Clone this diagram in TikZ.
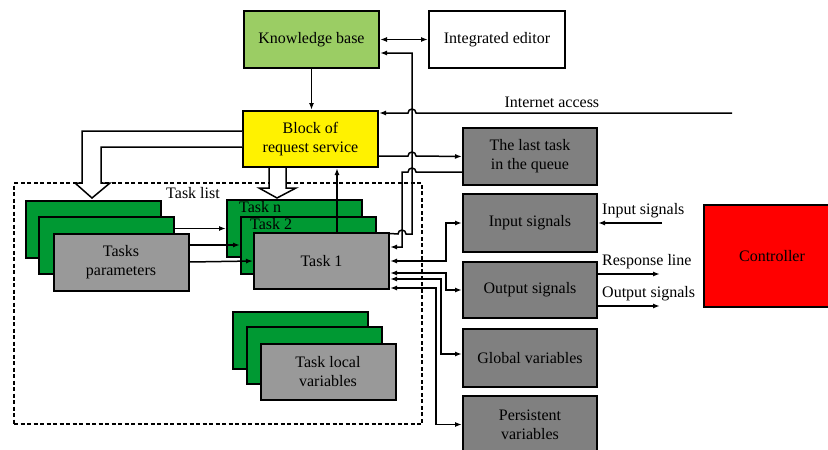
\documentclass[tikz,border=0pt]{standalone}
\usepackage{fontspec}
\setmainfont{Liberation Serif}
\usetikzlibrary{arrows.meta}
\usetikzlibrary{positioning}

\definecolor{kbgreen}{RGB}{155,205,100}
\definecolor{taskgreen}{RGB}{0,153,51}
\definecolor{taskgray}{RGB}{153,153,153}
\definecolor{boxgray}{RGB}{128,128,128}

\begin{document}
\begin{tikzpicture}[x=1pt,y=-1pt,
    >={Latex[length=7pt,width=5pt]},
    font=\fontsize{16}{19}\selectfont,
    box/.style={draw, line width=2pt, minimum width=135pt, minimum height=57pt,
      align=center, inner sep=2pt},
    link/.style={line width=1.5pt},
    hollow/.style={line width=1.5pt, fill=white, line join=miter},
    listframe/.style={draw, dashed, line width=1.6pt, dash pattern=on 4pt off 2.5pt}]
    \clip (0,0) rectangle (828,450);

    % upper blocks
    \node[box, fill=kbgreen] (kb) at (311.5,39.5) {Knowledge base};
    \node[box, fill=white, minimum width=136pt] (ie) at (497,39.5) {Integrated editor};
    \node[box, fill=yellow, minimum height=56pt] (req) at (310.5,139) {Block of\\request service};

    % right column
    \node[box, fill=boxgray, minimum width=134pt] (last) at (530,156.5) {The last task\\in the queue};
    \node[box, fill=boxgray, minimum width=134pt, minimum height=58pt] (insig) at (530,223) {Input signals};
    \node[box, fill=boxgray, minimum width=134pt, minimum height=56pt] (outsig) at (530,290) {Output signals};
    \node[box, fill=boxgray, minimum width=134pt, minimum height=58pt] (glob) at (530,358) {Global variables};
    \node[box, fill=boxgray, minimum width=134pt] (pers) at (530,424.5) {Persistent\\variables};
    \node[box, fill=red, minimum width=136pt, minimum height=102pt] (ctrl) at (772,256) {Controller};

    % task list
    \node[listframe, minimum width=408pt, minimum height=241pt] (list) at (218,303.5) {};
    \node (listlbl) at (193,193) {Task list};

    \node[box, fill=taskgreen] (tpc) at (93,229.5) {};
    \node[box, fill=taskgreen, xshift=13.5pt, yshift=-16pt] (tpb) at (tpc) {};
    \node[box, fill=taskgray, xshift=14.5pt, yshift=-16.5pt] (tpa) at (tpb) {Tasks\\parameters};

    \node[box, fill=taskgreen] (tn) at (294.5,228.5) {};
    \node[anchor=base west, inner sep=0pt] (tnlbl) at ([xshift=13pt,yshift=-13pt]tn.north west) {Task n};
    \node[box, fill=taskgreen, xshift=14pt, yshift=-16.5pt] (t2) at (tn) {};
    \node[anchor=base west, inner sep=0pt] (t2lbl) at ([xshift=10pt,yshift=-14pt]t2.north west) {Task 2};
    \node[box, fill=taskgray, minimum height=56pt, xshift=13pt, yshift=-16pt] (t1) at (t2) {Task 1};

    \node[box, fill=taskgreen] (lvc) at (300.5,340.5) {};
    \node[box, fill=taskgreen, xshift=13.5pt, yshift=-15pt] (lvb) at (lvc) {};
    \node[box, fill=taskgray, minimum height=56pt, xshift=14pt, yshift=-16.5pt] (lva) at (lvb) {Task local\\variables};

    % hollow arrows from the request block
    \draw[hollow] ([yshift=8pt]req.west) -- (82,131) -- (82,183) -- (75,183) -- (92,198)
      -- (110,183) -- (101,183) -- (101,147) -- ([yshift=-8pt]req.west);
    \draw[hollow] ([xshift=-41.5pt]req.south) -- (269,188) -- (259,188) -- (277,198)
      -- (296,188) -- (286,188) -- ([xshift=-24.5pt]req.south);

    % knowledge base links
    \draw[link,->] (kb.south) -- (kb.south |- req.north);
    \draw[link,<->] (kb.east) -- (ie.west);

    % internet access
    \coordinate (net) at (732,113);
    \draw[link,->] (net) -- node[pos=0.57, above=1pt] (netlbl) {Internet access} (416,113)
      arc[start angle=0,end angle=-180,radius=4] -- ([yshift=26pt]req.east);

    % request block, last task and task 1
    \draw[link,->] ([yshift=-17pt]req.east) -- (408,156)
      arc[start angle=180,end angle=360,radius=4] -- (last.west);
    \draw[link,->] ([yshift=-15.5pt]last.west) -- (416,172)
      arc[start angle=0,end angle=-180,radius=4] -- (402,172) -- (402,247) -- ([yshift=14pt]t1.east);
    \draw[link,->] ([yshift=-1.5pt]t1.north east) -- (398,234)
      arc[start angle=180,end angle=360,radius=4] -- (412,234) -- (412,53) -- ([yshift=-13.5pt]kb.east);
    \coordinate (up) at ([xshift=15.5pt]t1.north);
    \draw[link,->] (up) -- (up |- req.south);

    % tasks parameters into the tasks
    \draw[link,->] (tpb.east |- tn.west) -- (tn.west);
    \draw[link,->] (tpa.east |- t2.west) -- (t2.west);
    \draw[link,->] (tpa.east) -- (t1.west);

    % task 1 and the right column
    \draw[link,<->] (t1.east) -- (446,261) |- (insig.west);
    \draw[link,<->] ([yshift=-12pt]t1.east) -- (446,273) |- (outsig.west);
    \draw[link,<->] ([yshift=-18pt]t1.east) -- (441,279) |- ([yshift=4pt]glob.west);
    \draw[link,<->] ([yshift=-27pt]t1.east) -- (436,288) |- (pers.west);

    % signals
    \coordinate (insrc) at (662,223);
    \draw[link,->] (insrc) -- (insig.east);
    \node[anchor=base west, inner sep=0pt] (inlbl) at (602,214) {Input signals};
    \coordinate (resp) at (660,274);
    \draw[link,->] ([yshift=16pt]outsig.east) -- (resp);
    \node[anchor=base west, inner sep=0pt] (resplbl) at (602,265) {Response line};
    \coordinate (outdst) at (660,306);
    \draw[link,->] ([yshift=-16pt]outsig.east) -- (outdst);
    \node[anchor=base west, inner sep=0pt] (outlbl) at (602,297) {Output signals};
  \end{tikzpicture}
\end{document}
